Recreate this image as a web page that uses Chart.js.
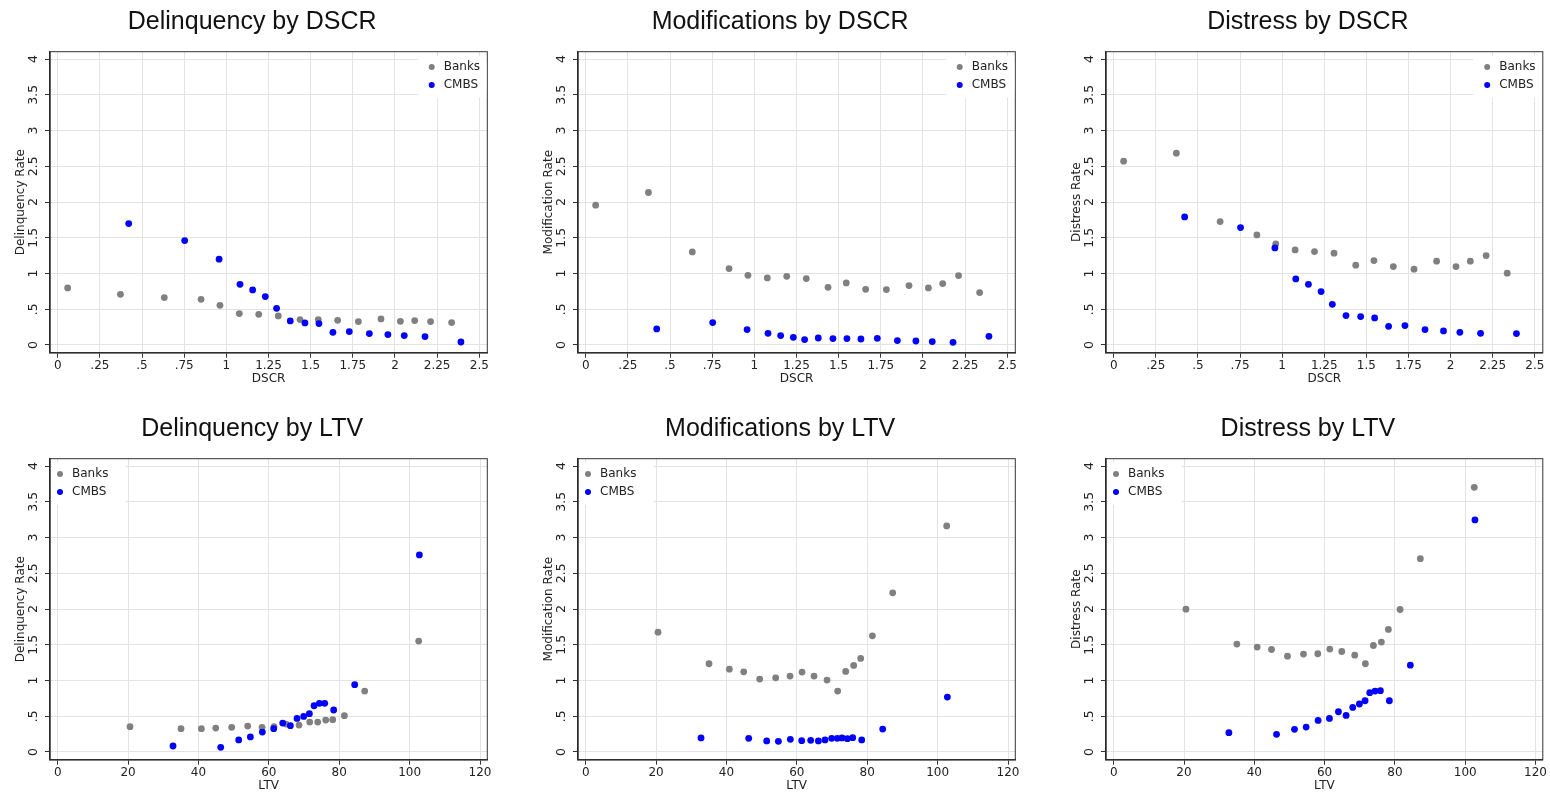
<!DOCTYPE html>
<html>
<head>
<meta charset="utf-8">
<script src="https://cdn.jsdelivr.net/npm/chart.js@4.4.1/dist/chart.umd.min.js"></script>
<style>
  html, body { margin: 0; padding: 0; background: #fff; overflow: hidden; }
  canvas { position: absolute; }
</style>
</head>
<body>
<canvas id="delinqDscr" width="528" height="389" style="left:0px;top:0px"></canvas>
<canvas id="modDscr" width="528" height="389" style="left:528px;top:0px"></canvas>
<canvas id="distDscr" width="494" height="389" style="left:1056px;top:0px"></canvas>
<canvas id="delinqLtv" width="528" height="389" style="left:0px;top:407px"></canvas>
<canvas id="modLtv" width="528" height="389" style="left:528px;top:407px"></canvas>
<canvas id="distLtv" width="494" height="389" style="left:1056px;top:407px"></canvas>
<script>
// bins (x values)
const dscrBanks = [0.059, 0.372, 0.632, 0.850, 0.962, 1.077, 1.192, 1.308, 1.437, 1.545, 1.660, 1.783, 1.917, 2.032, 2.117, 2.211, 2.336];
const dscrCmbs = [0.421, 0.753, 0.957, 1.081, 1.156, 1.231, 1.298, 1.379, 1.466, 1.549, 1.632, 1.729, 1.848, 1.958, 2.055, 2.178, 2.391];
const ltvBanks = [20.55, 35.04, 40.82, 44.9, 49.44, 53.99, 58.06, 61.47, 64.88, 68.57, 71.60, 73.88, 76.15, 78.14, 81.46, 87.23, 102.57];
const ltvCmbs = [32.77, 46.32, 51.43, 54.75, 58.15, 61.38, 63.93, 66.11, 68.0, 69.90, 71.51, 72.84, 74.35, 75.87, 78.42, 84.39, 102.77];

// rates by DSCR
const delinqDscrBanks = [0.798, 0.709, 0.663, 0.639, 0.555, 0.439, 0.429, 0.406, 0.355, 0.355, 0.345, 0.327, 0.364, 0.331, 0.341, 0.327, 0.313];
const delinqDscrCmbs = [1.699, 1.461, 1.200, 0.849, 0.770, 0.677, 0.513, 0.336, 0.308, 0.299, 0.177, 0.187, 0.159, 0.145, 0.131, 0.117, 0.042];
const modDscrBanks = [1.956, 2.133, 1.302, 1.069, 0.975, 0.938, 0.961, 0.929, 0.807, 0.868, 0.779, 0.775, 0.831, 0.798, 0.859, 0.971, 0.733];
const modDscrCmbs = [0.224, 0.313, 0.215, 0.163, 0.131, 0.107, 0.075, 0.098, 0.089, 0.089, 0.084, 0.093, 0.061, 0.056, 0.047, 0.037, 0.121];
const distDscrBanks = [2.572, 2.684, 1.727, 1.540, 1.414, 1.330, 1.307, 1.284, 1.116, 1.181, 1.097, 1.060, 1.172, 1.097, 1.172, 1.251, 1.004];
const distDscrCmbs = [1.792, 1.643, 1.358, 0.924, 0.849, 0.747, 0.569, 0.411, 0.397, 0.378, 0.261, 0.271, 0.215, 0.196, 0.177, 0.163, 0.159];

// rates by LTV
const delinqLtvBanks = [0.354, 0.326, 0.326, 0.335, 0.345, 0.363, 0.345, 0.354, 0.391, 0.377, 0.419, 0.419, 0.447, 0.452, 0.508, 0.852, 1.551];
const delinqLtvCmbs = [0.084, 0.065, 0.168, 0.210, 0.279, 0.326, 0.405, 0.368, 0.470, 0.498, 0.536, 0.647, 0.680, 0.680, 0.587, 0.941, 2.757];
const modLtvBanks = [1.676, 1.234, 1.159, 1.122, 1.020, 1.038, 1.062, 1.118, 1.062, 1.006, 0.852, 1.127, 1.211, 1.309, 1.625, 2.226, 3.162];
const modLtvCmbs = [0.196, 0.191, 0.154, 0.149, 0.177, 0.158, 0.163, 0.154, 0.168, 0.191, 0.191, 0.196, 0.186, 0.200, 0.168, 0.321, 0.768];
const distLtvBanks = [1.998, 1.509, 1.467, 1.434, 1.341, 1.369, 1.374, 1.439, 1.406, 1.355, 1.234, 1.490, 1.537, 1.714, 1.993, 2.705, 3.702];
const distLtvCmbs = [0.270, 0.247, 0.317, 0.349, 0.442, 0.470, 0.563, 0.512, 0.624, 0.671, 0.717, 0.829, 0.852, 0.857, 0.717, 1.215, 3.246];

// tick labels
const rateTicks = [0, 0.5, 1, 1.5, 2, 2.5, 3, 3.5, 4];
const dscrTicks = [0, 0.25, 0.5, 0.75, 1, 1.25, 1.5, 1.75, 2, 2.25, 2.5];
const ltvTicks = [0, 20, 40, 60, 80, 100, 120];

const seriesNames = ['Banks', 'CMBS'];
const seriesColors = ['#808080', '#0000ff'];

const FONT = '"DejaVu Sans", sans-serif';
const INK = '#222';

// stata style: .5 instead of 0.5
const fmt = v => String(v).replace(/^0\./, '.');

const pts = (xs, ys) => xs.map((x, i) => ({x: x, y: ys[i]}));

// frame, rotated y labels and legend inside the plot
const stataBits = {
  id: 'stataBits',
  beforeDatasetsDraw(chart) {
    const {ctx, chartArea: a} = chart;
    ctx.save();
    ctx.strokeStyle = '#333';
    ctx.lineWidth = 1;
    ctx.strokeRect(a.left, a.top, a.right - a.left, a.bottom - a.top);
    ctx.restore();
  },
  afterDatasetsDraw(chart, args, opts) {
    const {ctx, chartArea: a} = chart;
    const ys = chart.scales.y;
    ctx.save();
    ctx.font = '12.5px ' + FONT;
    ctx.fillStyle = INK;
    ctx.textAlign = 'center';
    ctx.textBaseline = 'middle';
    ys.ticks.forEach(t => {
      ctx.save();
      ctx.translate(34, ys.getPixelForValue(t.value));
      ctx.rotate(-Math.PI / 2);
      ctx.fillText(fmt(t.value), 0, 0);
      ctx.restore();
    });

    // legend
    ctx.font = '12px ' + FONT;
    const mx = opts.corner === 'right' ? a.right - 55.6 : a.left + 10;
    const bx0 = opts.corner === 'right' ? mx - 14 : a.left + 1;
    const bx1 = opts.corner === 'right' ? a.right - 1 : mx + 66;
    ctx.fillStyle = '#fff';
    ctx.fillRect(bx0, a.top + 4, bx1 - bx0, 42);
    ctx.textAlign = 'left';
    chart.data.datasets.forEach((ds, i) => {
      const my = a.top + 15.3 + i * 18;
      ctx.fillStyle = ds.backgroundColor;
      ctx.beginPath();
      ctx.arc(mx, my, 3, 0, Math.PI * 2);
      ctx.fill();
      ctx.fillStyle = INK;
      ctx.fillText(ds.label, mx + 12, my);
    });
    ctx.restore();
  }
};

function makePanel(id, title, yTitle, xTitle, xTicks, xMin, xMax, xb, yb, xc, yc, corner, rightPad) {
  new Chart(document.getElementById(id), {
    type: 'scatter',
    data: {
      datasets: [
        {label: seriesNames[0], data: pts(xb, yb), backgroundColor: seriesColors[0], borderColor: seriesColors[0],
         pointRadius: 3.4, pointBorderWidth: 0, order: 1},
        {label: seriesNames[1], data: pts(xc, yc), backgroundColor: seriesColors[1], borderColor: seriesColors[1],
         pointRadius: 3.4, pointBorderWidth: 0, order: 0}
      ]
    },
    options: {
      responsive: false,
      animation: false,
      layout: {padding: {left: 17, right: rightPad, top: 0, bottom: 0}},
      plugins: {
        legend: {display: false},
        tooltip: {enabled: false},
        title: {
          display: true, text: title, color: '#111',
          font: {family: '"Liberation Sans", sans-serif', size: 25, weight: 'normal'},
          padding: {top: 7, bottom: 14.7}
        },
        stataBits: {corner: corner}
      },
      scales: {
        x: {
          type: 'linear', min: xMin, max: xMax,
          afterBuildTicks: s => { s.ticks = xTicks.map(v => ({value: v})); },
          afterFit: s => { s.height = 36.3; s.paddingLeft = 0; s.paddingRight = 0; },
          grid: {color: '#e3e3e3', tickColor: '#333', tickLength: 5, lineWidth: 1},
          border: {color: INK, width: 1.5},
          ticks: {font: {family: FONT, size: 12}, color: INK, padding: 1, maxRotation: 0, autoSkip: false,
                  callback: v => fmt(v)},
          title: {display: true, text: xTitle, color: INK, font: {family: FONT, size: 12},
                  padding: {top: 0, bottom: 2.8}}
        },
        y: {
          type: 'linear', min: -0.108, max: 4.103,
          afterBuildTicks: s => { s.ticks = rateTicks.map(v => ({value: v})); },
          afterFit: s => { s.width = 33; s.paddingTop = 0; s.paddingBottom = 0; },
          grid: {color: '#e3e3e3', tickColor: '#333', tickLength: 5, lineWidth: 1},
          border: {color: INK, width: 1.5},
          ticks: {display: false},
          title: {display: true, text: yTitle, color: INK, font: {family: FONT, size: 12},
                  padding: {top: -3.2, bottom: 0}}
        }
      }
    },
    plugins: [stataBits]
  });
}

makePanel('delinqDscr', 'Delinquency by DSCR', 'Delinquency Rate', 'DSCR', dscrTicks, -0.0457, 2.5474,
  dscrBanks, delinqDscrBanks, dscrCmbs, delinqDscrCmbs, 'right', 40.7);
makePanel('modDscr', 'Modifications by DSCR', 'Modification Rate', 'DSCR', dscrTicks, -0.0457, 2.5474,
  dscrBanks, modDscrBanks, dscrCmbs, modDscrCmbs, 'right', 40.7);
makePanel('distDscr', 'Distress by DSCR', 'Distress Rate', 'DSCR', dscrTicks, -0.0457, 2.5474,
  dscrBanks, distDscrBanks, dscrCmbs, distDscrCmbs, 'right', 7.2);
makePanel('delinqLtv', 'Delinquency by LTV', 'Delinquency Rate', 'LTV', ltvTicks, -2.19, 122.07,
  ltvBanks, delinqLtvBanks, ltvCmbs, delinqLtvCmbs, 'left', 40.7);
makePanel('modLtv', 'Modifications by LTV', 'Modification Rate', 'LTV', ltvTicks, -2.19, 122.07,
  ltvBanks, modLtvBanks, ltvCmbs, modLtvCmbs, 'left', 40.7);
makePanel('distLtv', 'Distress by LTV', 'Distress Rate', 'LTV', ltvTicks, -2.19, 122.07,
  ltvBanks, distLtvBanks, ltvCmbs, distLtvCmbs, 'left', 7.2);
</script>
</body>
</html>
